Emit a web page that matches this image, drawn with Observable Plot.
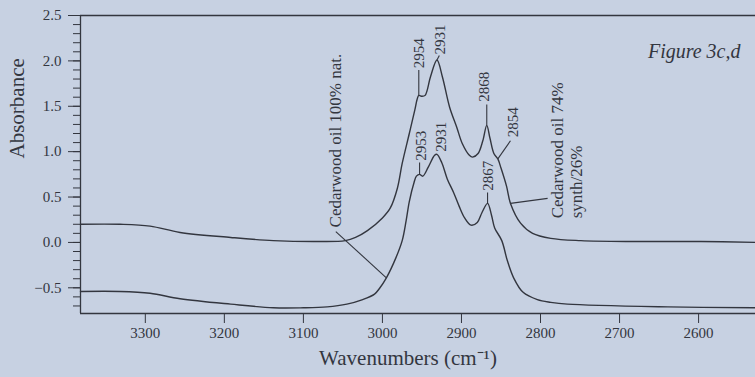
<!DOCTYPE html>
<html>
<head>
<meta charset="utf-8">
<script src="https://cdn.jsdelivr.net/npm/d3@7"></script>
<script src="https://cdn.jsdelivr.net/npm/@observablehq/plot@0.6"></script>
<style>
  html, body { margin: 0; padding: 0; background: #c7d1e2; }
</style>
</head>
<body>
<div id="chart"></div>
<script>
// ---- data ----
const wnSynth = [3382, 3332, 3294, 3256, 3192, 3138, 3078, 3047, 3034, 3019, 3000, 2990, 2981, 2975, 2966, 2959, 2956, 2954, 2950, 2946, 2939, 2931, 2924, 2915, 2906, 2899, 2890, 2886, 2879, 2873, 2868, 2864, 2859, 2854, 2850, 2843, 2838, 2825, 2810, 2787, 2749, 2682, 2597, 2528];
const absSynth = [0.20, 0.20, 0.18, 0.11, 0.055, 0.02, 0.01, 0.02, 0.055, 0.13, 0.27, 0.38, 0.60, 0.87, 1.20, 1.46, 1.58, 1.62, 1.61, 1.62, 1.83, 2.01, 1.82, 1.49, 1.27, 1.09, 0.96, 0.94, 0.98, 1.12, 1.29, 1.15, 0.98, 0.92, 0.82, 0.62, 0.43, 0.21, 0.10, 0.045, 0.02, 0.01, 0.01, 0.0];

const wnNat = [3382, 3332, 3294, 3256, 3192, 3138, 3100, 3070, 3045, 3025, 3010, 3004, 2995, 2983, 2975, 2970, 2966, 2960, 2957, 2953, 2949, 2942, 2934, 2931, 2925, 2918, 2910, 2903, 2896, 2888, 2880, 2874, 2867, 2862, 2858, 2849, 2842, 2834, 2822, 2804, 2787, 2766, 2639, 2528];
const absNat = [-0.54, -0.54, -0.56, -0.62, -0.68, -0.72, -0.72, -0.71, -0.68, -0.63, -0.57, -0.51, -0.39, -0.17, 0.02, 0.24, 0.45, 0.66, 0.73, 0.75, 0.73, 0.83, 0.96, 0.97, 0.88, 0.70, 0.55, 0.40, 0.27, 0.19, 0.22, 0.33, 0.43, 0.30, 0.16, 0.02, -0.20, -0.39, -0.55, -0.63, -0.66, -0.68, -0.71, -0.72];

const xTicks = [3300, 3200, 3100, 3000, 2900, 2800, 2700, 2600];
const yMajor = [-0.5, 0.0, 0.5, 1.0, 1.5, 2.0, 2.5];
const yMinor = d3.range(-7, 26).map(d => d / 10);

// peak annotations (text, label position in data units, leader from curve)
const peakText  = ["2954", "2931", "2868", "2854", "2953", "2931", "2867"];
const peakWn    = [2954, 2931, 2868, 2854, 2953, 2931, 2867];
const peakCurve = ["synth", "synth", "synth", "synth", "nat", "nat", "nat"];
const peakLabX  = [2954, 2927, 2871, 2835, 2951, 2926, 2866];
const peakLabY  = [1.92, 2.07, 1.55, 1.16, 0.90, 1.00, 0.57];
const peakLeadX = [2954, 2928, 2868, 2838, 2953, 2929, 2867];
const peakLeadY = [1.90, 2.06, 1.52, 1.12, 0.88, 0.99, 0.55];

const seriesText = ["Cedarwood oil 100% nat.", "Cedarwood oil 74%", "synth/26%"];
const seriesLabX = [3059, 2778, 2755];
const seriesLabY = [0.165, 0.265, 0.265];
const seriesLeadFromX = [3059, 2791];
const seriesLeadFromY = [0.12, 0.485];
const seriesLeadToWn = [2995, 2838];
const seriesLeadToCurve = ["nat", "synth"];

// ---- build tables ----
const synth = wnSynth.map((w, i) => ({wn: w, abs: absSynth[i]}));
const nat = wnNat.map((w, i) => ({wn: w, abs: absNat[i]}));
function at(curve, w) {
  const wn = curve === "synth" ? wnSynth : wnNat;
  const ab = curve === "synth" ? absSynth : absNat;
  for (let i = 0; i < wn.length - 1; i++) {
    if ((wn[i] - w) * (wn[i + 1] - w) <= 0) {
      const t = (w - wn[i]) / (wn[i + 1] - wn[i]);
      return ab[i] + t * (ab[i + 1] - ab[i]);
    }
  }
  return ab[ab.length - 1];
}
const peakLabels = peakText.map((t, i) => ({text: t, x: peakLabX[i], y: peakLabY[i]}));
const peakLeaders = peakText.map((t, i) => ({x1: peakWn[i], y1: at(peakCurve[i], peakWn[i]), x2: peakLeadX[i], y2: peakLeadY[i]}))
  .filter(d => Math.hypot(d.x1 - d.x2, (d.y1 - d.y2) * 100) > 3);
const seriesLabels = seriesText.map((t, i) => ({text: t, x: seriesLabX[i], y: seriesLabY[i]}));
const seriesLeaders = seriesLeadToWn.map((w, i) => ({x1: w, y1: at(seriesLeadToCurve[i], w), x2: seriesLeadFromX[i], y2: seriesLeadFromY[i]}));

const xDomain = [3382, 2528];
const yDomain = [-0.783, 2.5];
const ink = "#33363f";

const chart = Plot.plot({
  width: 755,
  height: 377,
  marginLeft: 80,
  marginRight: 0,
  marginTop: 15,
  marginBottom: 64,
  style: {background: "#c7d1e2", fontFamily: "'Liberation Serif', serif", color: ink, overflow: "visible"},
  x: {domain: xDomain},
  y: {domain: yDomain},
  marks: [
    Plot.ruleY([yDomain[1], yDomain[0]], {stroke: ink, strokeWidth: 1.3}),
    Plot.ruleX([xDomain[0]], {stroke: ink, strokeWidth: 1.3}),
    Plot.axisX(xTicks, {tickSize: 10, tickPadding: 4, fontSize: 15, tickFormat: d => String(d), label: null, stroke: ink}),
    Plot.axisY(yMinor, {tickSize: 7, tickFormat: () => "", label: null, stroke: ink}),
    Plot.axisY(yMajor, {tickSize: 12, tickPadding: 7, fontSize: 15, tickFormat: d3.format(".1f"), label: null, stroke: ink}),
    Plot.line(synth, {x: "wn", y: "abs", curve: "catmull-rom", stroke: ink, strokeWidth: 1.4}),
    Plot.line(nat, {x: "wn", y: "abs", curve: "catmull-rom", stroke: ink, strokeWidth: 1.4}),
    Plot.link(peakLeaders, {x1: "x1", y1: "y1", x2: "x2", y2: "y2", stroke: ink, strokeWidth: 1.1}),
    Plot.link(seriesLeaders, {x1: "x1", y1: "y1", x2: "x2", y2: "y2", stroke: ink, strokeWidth: 1.1}),
    Plot.text(peakLabels, {x: "x", y: "y", text: "text", rotate: -90, textAnchor: "start", fontSize: 15, fill: ink}),
    Plot.text(seriesLabels, {x: "x", y: "y", text: "text", rotate: -90, textAnchor: "start", fontSize: 17, fill: ink}),
    Plot.text(["Absorbance"], {frameAnchor: "left", dx: -63, dy: -6, rotate: -90, fontSize: 21, fill: ink}),
    Plot.text(["Wavenumbers (cm⁻¹)"], {frameAnchor: "bottom", dx: -10, dy: 51, fontSize: 21, fill: ink}),
    Plot.text(["Figure 3c,d"], {frameAnchor: "top-right", textAnchor: "end", dx: -15, dy: 28, fontSize: 20, fontStyle: "italic", fill: ink})
  ]
});
document.getElementById("chart").append(chart);
</script>
</body>
</html>
